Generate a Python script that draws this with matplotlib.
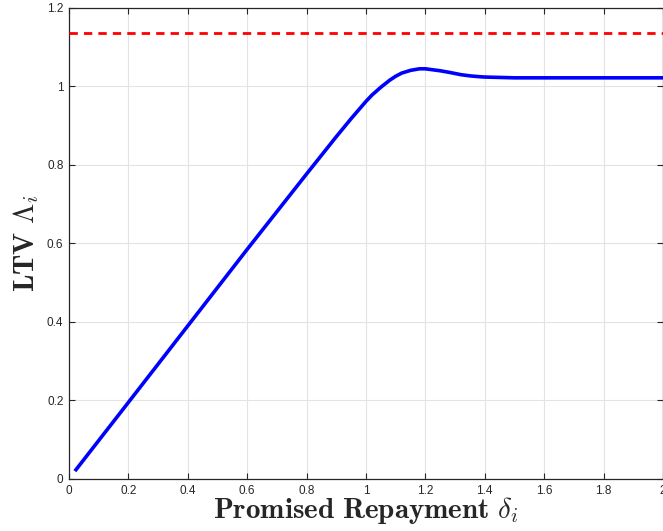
import numpy as np
import matplotlib.pyplot as plt
from matplotlib.ticker import FuncFormatter

# values
delta = [0.02, 0.2, 0.4, 0.6, 0.8, 0.9, 0.95, 1.0, 1.02, 1.05, 1.08, 1.1, 1.12,
         1.15, 1.18, 1.2, 1.22, 1.25, 1.28, 1.3, 1.32, 1.35, 1.38, 1.4, 1.45,
         1.5, 1.6, 1.8, 2.0]
ltv = [0.02, 0.195, 0.39, 0.585, 0.777, 0.872, 0.918, 0.962, 0.978, 0.998, 1.016,
       1.026, 1.034, 1.041, 1.045, 1.045, 1.043, 1.04, 1.036, 1.033, 1.03, 1.027,
       1.025, 1.024, 1.023, 1.022, 1.022, 1.022, 1.022]
ltv_cap = 1.135

x_ticks = [0, 0.2, 0.4, 0.6, 0.8, 1, 1.2, 1.4, 1.6, 1.8, 2]
y_ticks = [0, 0.2, 0.4, 0.6, 0.8, 1, 1.2]

plt.rcParams['mathtext.fontset'] = 'cm'
plt.rcParams['font.family'] = ['Liberation Sans', 'DejaVu Sans']

fig = plt.figure(figsize=(6.63, 5.31), dpi=100)
ax = fig.add_axes([0.104, 0.098, 0.896, 0.887])

ax.plot(delta, ltv, color='#0000ff', linewidth=2.6, solid_capstyle='butt',
        solid_joinstyle='round', zorder=3)
ax.axhline(ltv_cap, color='#ff0000', linestyle=(0, (3, 2.2)), linewidth=2.0, zorder=3)

ax.set_xlim(0, 2)
ax.set_ylim(0, 1.2)
ax.set_xticks(x_ticks)
ax.set_yticks(y_ticks)
fmt = FuncFormatter(lambda v, p: '%g' % v)
ax.xaxis.set_major_formatter(fmt)
ax.yaxis.set_major_formatter(fmt)

ax.grid(True, color='#e3e3e3', linewidth=0.8)
ax.set_axisbelow(True)
ax.tick_params(direction='in', length=4, width=0.8, colors='#262626',
               labelsize=8.5, top=True, right=True, pad=4)
for s in ax.spines.values():
    s.set_color('#262626')
    s.set_linewidth(0.9)

ax.set_xlabel(r'$\mathbf{Promised\ Repayment}\ \delta_i$', fontsize=21,
              color='#262626', labelpad=-1)
ax.set_ylabel(r'$\mathbf{LTV}\ \mathit{\Lambda}_i$', fontsize=21, color='#262626',
              labelpad=4)

fig.savefig('out.png', dpi=100)
